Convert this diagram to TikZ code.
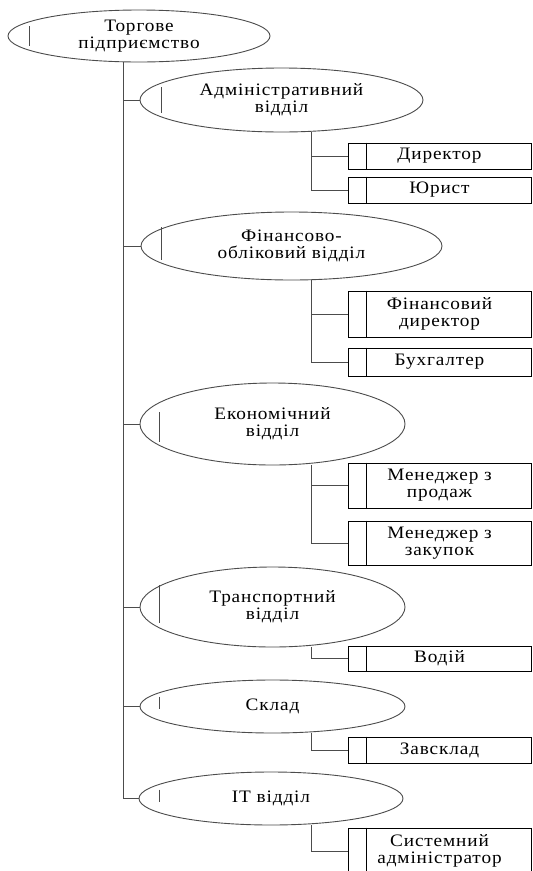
\documentclass[tikz,border=0pt]{standalone}
\usepackage{fontspec}
\setmainfont{Liberation Serif}[FakeStretch=1.1,LetterSpace=5]
\usepackage{tikz}
\usetikzlibrary{shapes.geometric,positioning}

\begin{document}
\begin{tikzpicture}[x=1pt,y=1pt]
                    \tikzstyle{every node}+=[inner sep=0pt, font=\fontsize{17.5}{17}\selectfont, align=center]
                    \tikzstyle{dept}=[draw=black!70, line width=0.9pt, ellipse]
                    \tikzstyle{post}=[draw=black, line width=0.9pt, rectangle, minimum width=183pt]
                    \tikzstyle{link}=[black!70, line width=0.9pt]
                    \clip (0,0) rectangle (533,-871);
                    \fill [white] (0,0) rectangle (533,-871);
                    % main branch
                    \node [dept, minimum width=262pt, minimum height=52pt] (torg) at (139,-36) {Торгове\\підприємство};
                    \draw [link] ([xshift=22pt]torg.west) ++(0,10) -- ++(0,-20);
                    \coordinate (trunk) at (123,-62);
                    \coordinate (sub) at (311,-62);
                    % departments
                    \node [dept, minimum width=283pt, minimum height=64pt] (adm) at (281.5,-100) {Адміністративний\\відділ};
                    \node [dept, minimum width=301pt, minimum height=68pt] (fin) at (291.5,-246) {Фінансово-\\обліковий відділ};
                    \node [dept, minimum width=265pt, minimum height=82pt] (eco) at (272.5,-424) {Економічний\\відділ};
                    \node [dept, minimum width=265pt, minimum height=80pt] (tra) at (272.5,-607) {Транспортний\\відділ};
                    \node [dept, minimum width=265pt, minimum height=53pt] (skl) at (272.5,-706.5) {Склад};
                    \node [dept, minimum width=264pt, minimum height=53pt] (it) at (271,-798.5) {IT відділ};
                    \draw [link] ([xshift=22pt]adm.west) ++(0,13) -- ++(0,-26);
                    \draw [link] ([xshift=21pt]fin.west) ++(0,19) -- ++(0,-33);
                    \draw [link] ([xshift=20pt]eco.west) ++(0,12) -- ++(0,-30);
                    \draw [link] ([xshift=20pt]tra.west) ++(0,22) -- ++(0,-38);
                    \draw [link] ([xshift=20pt]skl.west) ++(0,10) -- ++(0,-12);
                    \draw [link] ([xshift=21pt]it.west) ++(0,9) -- ++(0,-12);
                    % posts
                    \node [post, minimum height=26pt] (dir) at (439.5,-156) {Директор};
                    \node [post, minimum height=26pt] (yur) at (439.5,-190) {Юрист};
                    \node [post, minimum height=46pt] (fdir) at (439.5,-314) {Фінансовий\\директор};
                    \node [post, minimum height=28pt] (buh) at (439.5,-362) {Бухгалтер};
                    \node [post, minimum height=45pt] (mprod) at (439.5,-485.5) {Менеджер з\\продаж};
                    \node [post, minimum height=44pt] (mzak) at (439.5,-543) {Менеджер з\\закупок};
                    \node [post, minimum height=25pt] (vod) at (439.5,-658.5) {Водій};
                    \node [post, minimum height=26pt] (zav) at (439.5,-750) {Завсклад};
                    \node [post, minimum height=46pt] (sys) at (439.5,-851) {Системний\\адміністратор};
                    \draw [black] ([xshift=19pt]dir.north west) -- ([xshift=19pt]dir.south west);
                    \draw [black] ([xshift=19pt]yur.north west) -- ([xshift=19pt]yur.south west);
                    \draw [black] ([xshift=19pt]fdir.north west) -- ([xshift=19pt]fdir.south west);
                    \draw [black] ([xshift=19pt]buh.north west) -- ([xshift=19pt]buh.south west);
                    \draw [black] ([xshift=19pt]mprod.north west) -- ([xshift=19pt]mprod.south west);
                    \draw [black] ([xshift=19pt]mzak.north west) -- ([xshift=19pt]mzak.south west);
                    \draw [black] ([xshift=19pt]vod.north west) -- ([xshift=19pt]vod.south west);
                    \draw [black] ([xshift=19pt]zav.north west) -- ([xshift=19pt]zav.south west);
                    \draw [black] ([xshift=19pt]sys.north west) -- ([xshift=19pt]sys.south west);
                    % connectors
                    \draw [link] (trunk) -- (trunk |- it.west);
                    \draw [link] (trunk |- adm.west) -- (adm.west);
                    \draw [link] (trunk |- fin.west) -- (fin.west);
                    \draw [link] (trunk |- eco.west) -- (eco.west);
                    \draw [link] (trunk |- tra.west) -- (tra.west);
                    \draw [link] (trunk |- skl.west) -- (skl.west);
                    \draw [link] (trunk |- it.west) -- (it.west);
                    \draw [link] (sub |- adm.south) -- (sub |- yur.west) -- (yur.west);
                    \draw [link] (sub |- dir.west) -- (dir.west);
                    \draw [link] (sub |- fin.south) -- (sub |- buh.west) -- (buh.west);
                    \draw [link] (sub |- fdir.west) -- (fdir.west);
                    \draw [link] (sub |- eco.south) -- (sub |- mzak.west) -- (mzak.west);
                    \draw [link] (sub |- mprod.west) -- (mprod.west);
                    \draw [link] (sub |- tra.south) -- (sub |- vod.west) -- (vod.west);
                    \draw [link] (sub |- skl.south) -- (sub |- zav.west) -- (zav.west);
                    \draw [link] (sub |- it.south) -- (sub |- sys.west) -- (sys.west);
                \end{tikzpicture}
\end{document}
